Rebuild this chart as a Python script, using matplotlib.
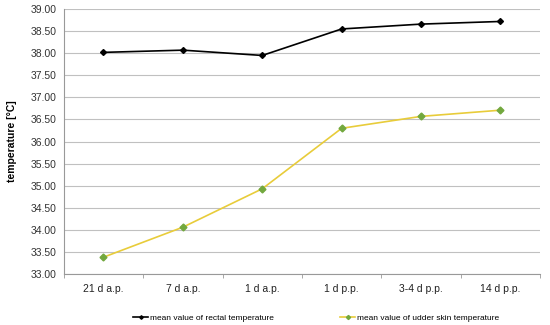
import matplotlib
matplotlib.use("Agg")
import matplotlib.pyplot as plt
import numpy as np

categories = ["21 d a.p.", "7 d a.p.", "1 d a.p.", "1 d p.p.", "3-4 d p.p.", "14 d p.p."]
rectal = [38.02, 38.07, 37.95, 38.55, 38.66, 38.72]
udder = [33.38, 34.06, 34.93, 36.30, 36.57, 36.71]
yticks = [33.0, 33.5, 34.0, 34.5, 35.0, 35.5, 36.0, 36.5, 37.0, 37.5, 38.0, 38.5, 39.0]

plt.rcParams['font.family'] = ['Liberation Sans', 'DejaVu Sans']

fig = plt.figure(figsize=(5.5, 3.25), dpi=100)
ax = fig.add_axes([0.116, 0.157, 0.866, 0.815])

x = np.arange(len(categories))
ax.plot(x, rectal, color="black", lw=1.2, marker="D", ms=3,
        mfc="black", mec="black", label="mean value of rectal temperature")
ax.plot(x, udder, color="#e8cc3a", lw=1.2, marker="D", ms=3.5,
        mfc="#72a83e", mec="#72a83e", label="mean value of udder skin temperature")

ax.set_xlim(-0.5, len(categories) - 0.5)
ax.set_ylim(33, 39)
ax.set_yticks(yticks)
ax.set_yticklabels([f"{v:.2f}" for v in yticks], fontsize=7.5, color="#333333")
ax.set_xticks(x)
ax.set_xticklabels(categories, fontsize=7.5, color="#222222")
ax.tick_params(axis="x", which="major", length=0, pad=7)
ax.set_xticks(np.arange(-0.5, len(categories)), minor=True)
ax.tick_params(axis="x", which="minor", length=3, color="#999999", direction="out")
ax.tick_params(axis="y", length=0, pad=5)

ax.yaxis.grid(True, color="#c0c0c0", lw=0.8)
ax.set_axisbelow(True)
for s in ["top", "right"]:
    ax.spines[s].set_visible(False)
ax.spines["left"].set_color("#999999")
ax.spines["bottom"].set_color("#999999")

ax.set_ylabel("temperature [°C]", fontsize=7.5, fontweight="bold", labelpad=10)

ax.legend(loc="center", bbox_to_anchor=(0.53, -0.166), ncol=2, frameon=False,
          fontsize=6, handlelength=1.8, handletextpad=0.2, columnspacing=8,
          markerscale=0.6)

fig.savefig("out.png", dpi=100)
